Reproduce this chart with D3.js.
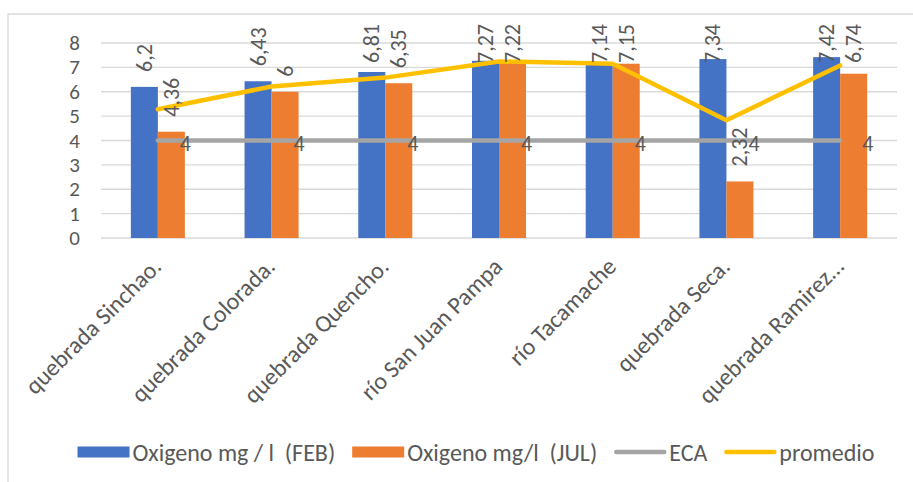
<!DOCTYPE html>
<html>
<head>
<meta charset="utf-8">
<script src="https://cdn.jsdelivr.net/npm/d3@7"></script>
<style>
  html, body { margin: 0; padding: 0; background: #fff; }
  svg { display: block; }
  text { font-family: Carlito, Lato, "Open Sans", sans-serif; fill: #595959; white-space: pre; }
</style>
</head>
<body>
<svg id="chart" width="913" height="482"></svg>
<script>
// Monitoring points along the watershed
const categories = [
  "quebrada Sinchao.", "quebrada Colorada.", "quebrada Quencho.",
  "río San Juan Pampa", "río Tacamache", "quebrada Seca.", "quebrada Ramirez…"
];
// Dissolved oxygen (mg/l), February and July campaigns
const oxigenoFeb = [6.2, 6.43, 6.81, 7.27, 7.14, 7.34, 7.42];
const oxigenoJul = [4.36, 6, 6.35, 7.22, 7.15, 2.32, 6.74];
// Environmental quality standard (ECA) and campaign average
const eca = [4, 4, 4, 4, 4, 4, 4];
const promedio = [5.28, 6.215, 6.58, 7.245, 7.145, 4.83, 7.08];
const yTicks = [0, 1, 2, 3, 4, 5, 6, 7, 8];

const seriesNames = ["Oxigeno mg / l  (FEB)", "Oxigeno mg/l  (JUL)", "ECA", "promedio"];
const colors = { feb: "#4472C4", jul: "#ED7D31", eca: "#A5A5A5", prom: "#FFC000" };
const tickSize = 21, valueSize = 22, labelSize = 24;

const svg = d3.select("#chart");
const plot = { left: 101, right: 897, top: 43, bottom: 238 };

// Chart frame
svg.append("path")
  .attr("d", "M8,482V14H913")
  .attr("fill", "none")
  .attr("stroke", "#D9D9D9")
  .attr("stroke-width", 1.3);

const y = d3.scaleLinear().domain([0, 8]).range([plot.bottom, plot.top]);
const x0 = d3.scaleBand().domain(categories).range([plot.left, plot.right])
  .paddingInner(0.525).paddingOuter(0.2625);
const x1 = d3.scaleBand().domain(["feb", "jul"]).range([0, x0.bandwidth()]);
const cx = c => x0(c) + x0.bandwidth() / 2;

// Horizontal gridlines
svg.append("g").selectAll("line").data(yTicks).join("line")
  .attr("x1", plot.left).attr("x2", plot.right)
  .attr("y1", d => y(d)).attr("y2", d => y(d))
  .attr("stroke", "#D9D9D9").attr("stroke-width", 1.3);

// Y tick labels
svg.append("g").selectAll("text").data(yTicks).join("text")
  .attr("x", 80).attr("y", d => y(d))
  .attr("text-anchor", "end").attr("dominant-baseline", "central")
  .attr("font-size", tickSize)
  .text(d => d);

// Bars
const rows = categories.map((c, i) => ({ c, feb: oxigenoFeb[i], jul: oxigenoJul[i] }));
const barData = rows.flatMap(r => [{ c: r.c, k: "feb", v: r.feb }, { c: r.c, k: "jul", v: r.jul }]);
svg.append("g").selectAll("rect").data(barData).join("rect")
  .attr("x", d => x0(d.c) + x1(d.k))
  .attr("width", x1.bandwidth())
  .attr("y", d => y(d.v))
  .attr("height", d => y(0) - y(d.v))
  .attr("fill", d => colors[d.k]);

// ECA and average lines
const line = d3.line().x((d, i) => cx(categories[i])).y(d => y(d));
svg.append("path").datum(eca)
  .attr("d", line).attr("fill", "none")
  .attr("stroke", colors.eca).attr("stroke-width", 4.5).attr("stroke-linecap", "round");
svg.append("path").datum(promedio)
  .attr("d", line).attr("fill", "none")
  .attr("stroke", colors.prom).attr("stroke-width", 4.5)
  .attr("stroke-linecap", "round").attr("stroke-linejoin", "round");

const fmt = v => String(v).replace(".", ",");

// Vertical value labels above the bars
const barLabels = svg.append("g").selectAll("text").data(barData).join("text")
  .attr("font-size", valueSize)
  .attr("text-anchor", "start")
  .attr("dominant-baseline", "central")
  .text(d => fmt(d.v));
barLabels.each(function (d) {
  const len = this.getComputedTextLength();
  let bottom = y(d.v) - 15;
  if (bottom - len < 24) bottom = 24 + len;
  const bx = x0(d.c) + x1(d.k) + x1.bandwidth() / 2;
  d3.select(this).attr("transform", `translate(${bx},${bottom}) rotate(-90)`);
});

// ECA value labels
svg.append("g").selectAll("text").data(eca).join("text")
  .attr("x", (d, i) => cx(categories[i]) + 22)
  .attr("y", d => y(d) + 3)
  .attr("dominant-baseline", "central")
  .attr("font-size", valueSize)
  .text(d => fmt(d));

// Category labels
svg.append("g").selectAll("text").data(categories).join("text")
  .attr("transform", d => `translate(${cx(d) + 5},${plot.bottom + 30}) rotate(-45)`)
  .attr("text-anchor", "end")
  .attr("font-size", labelSize)
  .text(d => d);

// Legend
const legend = svg.append("g");
const items = [
  { name: seriesNames[0], color: colors.feb, type: "rect" },
  { name: seriesNames[1], color: colors.jul, type: "rect" },
  { name: seriesNames[2], color: colors.eca, type: "line" },
  { name: seriesNames[3], color: colors.prom, type: "line" }
];
const ly = 452;
let lx = 0;
items.forEach(it => {
  const g = legend.append("g").attr("transform", `translate(${lx},0)`);
  if (it.type === "rect") {
    g.append("rect").attr("x", 0).attr("y", ly - 5.5).attr("width", 52).attr("height", 11).attr("fill", it.color);
  } else {
    g.append("line").attr("x1", 2).attr("x2", 50).attr("y1", ly).attr("y2", ly)
      .attr("stroke", it.color).attr("stroke-width", 4.5).attr("stroke-linecap", "round");
  }
  const t = g.append("text").attr("x", 55).attr("y", ly)
    .attr("dominant-baseline", "central").attr("font-size", labelSize).text(it.name);
  lx += 55 + t.node().getComputedTextLength() + 17;
});
const legendWidth = lx - 17;
legend.attr("transform", `translate(${476 - legendWidth / 2},0)`);
</script>
</body>
</html>
